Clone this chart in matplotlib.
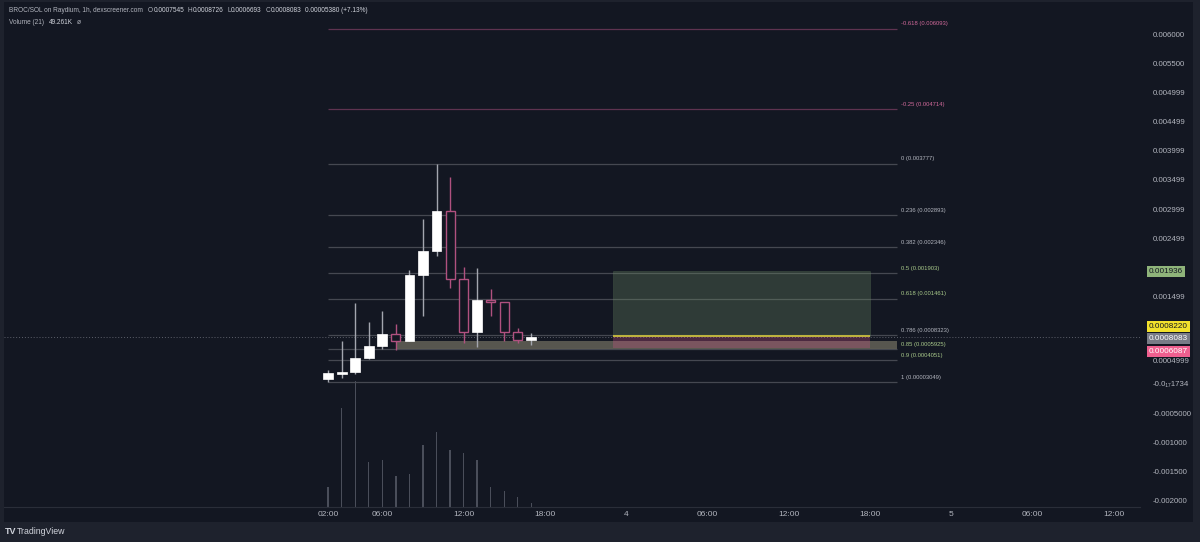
import matplotlib
matplotlib.use("Agg")
import matplotlib.pyplot as plt
from matplotlib.patches import Rectangle
from matplotlib.transforms import blended_transform_factory

# ---- data (hours from 00:00 of day 3, prices in SOL) ----
hours = [2, 3, 4, 5, 6, 7, 8, 9, 10, 11, 12, 13, 14, 15, 16, 17]
opens = [0.0000850, 0.000176, 0.000200, 0.000444, 0.000643, 0.000865, 0.000729, 0.001865,
         0.002282, 0.002974, 0.001804, 0.000887, 0.001433, 0.001411, 0.000899, 0.0007545]
highs = [0.000244, 0.000739, 0.001394, 0.001070, 0.001258, 0.001036, 0.001962, 0.002828,
         0.003777, 0.003544, 0.002014, 0.001997, 0.001633, 0.001411, 0.000956, 0.0008726]
lows = [0.00003049, 0.000108, 0.000171, 0.000427, 0.000597, 0.000585, 0.000729, 0.001166,
        0.002201, 0.001650, 0.000705, 0.000637, 0.001166, 0.000734, 0.000705, 0.0006693]
closes = [0.000183, 0.000210, 0.000449, 0.000648, 0.000858, 0.000734, 0.001872, 0.002287,
          0.002974, 0.001797, 0.000887, 0.001433, 0.001404, 0.000887, 0.000756, 0.0008083]
volumes = [20, 99, 126, 45, 47, 31, 33, 62, 75, 57, 54, 47, 20, 16, 10, 4]  # relative (K)

fib_levels = ["-0.618", "-0.25", "0", "0.236", "0.382", "0.5", "0.618", "0.786", "0.85", "0.9", "1"]
fib_prices = [0.006093, 0.004714, 0.003777, 0.002893, 0.002346, 0.001903, 0.001461,
              0.0008323, 0.0005925, 0.0004051, 0.00003049]
fib_labels = ["0.006093", "0.004714", "0.003777", "0.002893", "0.002346", "0.001903", "0.001461",
              "0.0008323", "0.0005925", "0.0004051", "0.00003049"]
fib_start, fib_end = 2, 44

zone_start, zone_low, zone_high = 7, 0.0005925, 0.000734
pos_start, pos_end = 23, 42
target, entry, stop = 0.001936, 0.000822, 0.0006087
last_price = 0.0008083

price_ticks = [0.006, 0.0055, 0.004999, 0.004499, 0.003999, 0.003499, 0.002999, 0.002499,
               0.001499, 0.0004, -0.0000001734, -0.0005, -0.001, -0.0015, -0.002]
price_tick_labels = ["0.006000", "0.005500", "0.004999", "0.004499", "0.003999", "0.003499",
                     "0.002999", "0.002499", "0.001499", "0.0004999",
                     "-0.0\u2081\u20871734", "-0.0005000", "-0.001000", "-0.001500", "-0.002000"]
time_ticks = [2, 6, 12, 18, 24, 30, 36, 42, 48, 54, 60]
time_labels = ["02:00", "06:00", "12:00", "18:00", "4", "06:00", "12:00", "18:00", "5", "06:00", "12:00"]

# ---- style ----
BG = "#131722"
BG2 = "#1e222d"
TXT = "#b2b5be"
VAL = "#d1d4dc"
PINK = "#b0517f"
plt.rcParams["font.family"] = ["Liberation Sans", "DejaVu Sans"]

W, H = 1200, 542
fig = plt.figure(figsize=(12, 5.42), dpi=100, facecolor=BG2)


def fx(px):
    return px / W


def fy(py):
    return 1 - py / H


fig.patches.append(Rectangle((fx(4), fy(522)), fx(1193) - fx(4), fy(2) - fy(522),
                             transform=fig.transFigure, facecolor=BG, edgecolor="none", zorder=-10))

rect = [fx(4), fy(507), fx(1140) - fx(4), fy(2) - fy(507)]
xlim = (-21.92, 61.92)

# volume pane (behind)
axv = fig.add_axes(rect, facecolor="none")
axv.bar(hours, volumes, width=0.1, color="#4a4e5a", zorder=1)
axv.set_xlim(*xlim)
axv.set_ylim(0, max(volumes) * 505 / 126)
axv.axis("off")

# price pane
ax = fig.add_axes(rect, facecolor="none")
ax.set_xlim(*xlim)
ax.set_ylim(-0.00211, 0.006552)
for s in ["top", "left", "right"]:
    ax.spines[s].set_visible(False)
ax.spines["bottom"].set_color("#2a2e39")

# fib lines
for lvl, p, lab in zip(fib_levels, fib_prices, fib_labels):
    if lvl.startswith("-"):
        lc, tc = "#5e3350", "#d0699a"
    elif lvl in ("0.5", "0.618", "0.85", "0.9"):
        lc, tc = "#454851", "#a8c98a"
    else:
        lc, tc = "#454851", "#b2b5be"
    ax.hlines(p, fib_start, fib_end, color=lc, lw=0.9, zorder=2)
    ax.text(fib_end + 0.3, p + 0.00004, f"{lvl} ({lab})", color=tc, fontsize=4.2,
            va="bottom", ha="left", zorder=6)

# zone band
ax.add_patch(Rectangle((zone_start, zone_low), fib_end - zone_start, zone_high - zone_low,
                       facecolor="#9b957c", alpha=0.5, edgecolor="none", zorder=2.5))

# long position box
ax.add_patch(Rectangle((pos_start, entry), pos_end - pos_start, target - entry,
                       facecolor="#708f68", alpha=0.3, edgecolor="#708f68", lw=0.5, zorder=2.2))
ax.add_patch(Rectangle((pos_start, stop), pos_end - pos_start, entry - stop,
                       facecolor="#ce5386", alpha=0.3, edgecolor="none", zorder=2.6))
ax.hlines(entry, pos_start, pos_end, color="#c9bd3c", lw=1.3, zorder=2.7)

# current price line
ax.axhline(last_price, color="#5d606b", lw=0.7, ls=(0, (1, 2)), zorder=2)

# candles
for h, o, hi, lo, c in zip(hours, opens, highs, lows, closes):
    up = c >= o
    wc = "#a3a6af" if up else PINK
    ax.vlines(h, lo, hi, color=wc, lw=1.0, zorder=3)
    bot = min(o, c)
    ht = max(abs(c - o), 0.00002)
    if up:
        ax.bar(h, ht, bottom=bot, width=0.72, color="white", edgecolor="white", lw=0.5, zorder=4)
    else:
        ax.bar(h, ht, bottom=bot, width=0.66, color=BG, edgecolor=PINK, lw=1.0, zorder=4)

# axes ticks
ax.yaxis.tick_right()
ax.set_yticks(price_ticks)
ax.set_yticklabels(price_tick_labels)
ax.tick_params(axis="y", length=0, pad=9, labelsize=5.7, labelcolor=TXT)
ax.set_xticks(time_ticks)
ax.set_xticklabels(time_labels)
ax.tick_params(axis="x", length=0, pad=3, labelsize=6.0, labelcolor=TXT)

# price labels on axis
trans = blended_transform_factory(ax.transAxes, ax.transData)
box_specs = [(target, "0.001936", "#8fb47a", "#131722", 0),
             (entry, "0.0008220", "#f2e12c", "#131722", 7),
             (last_price, "0.0008083", "#787b86", "white", -1.5),
             (stop, "0.0006087", "#ef5f8f", "white", -2)]
for p, s, fc, tc, off in box_specs:
    ax.annotate(s, xy=(1.0, p), xycoords=trans, xytext=(6.2, off), textcoords="offset points",
                fontsize=5.9, color=tc, va="center", ha="left", annotation_clip=False, zorder=10,
                bbox=dict(boxstyle="square,pad=0.25", facecolor=fc, edgecolor="none"))

# header, pieces placed one after another
renderer = fig.canvas.get_renderer()


def text_row(py, x0, parts, size=4.7):
    x = x0
    for s, c, gap in parts:
        t = fig.text(fx(x), fy(py), s, color=c, fontsize=size, va="center", ha="left")
        x += t.get_window_extent(renderer).width + gap


text_row(11, 9, [("BROC/SOL on Raydium, 1h, dexscreener.com", TXT, 5),
                 ("O", TXT, 0.5), ("0.0007545", VAL, 3.5),
                 ("H", TXT, 0.5), ("0.0008726", VAL, 3.5),
                 ("L", TXT, 0.5), ("0.0006693", VAL, 3.5),
                 ("C", TXT, 0.5), ("0.0008083", VAL, 4),
                 ("0.00005380 (+7.13%)", VAL, 0)])
text_row(22, 9, [("Volume (21)", TXT, 5), ("49.261K", VAL, 4), ("\u00f8", TXT, 0)])

# footer logo
fig.text(fx(5), fy(532), "TV", color=VAL, fontsize=6.5, fontweight="bold", va="center", ha="left")
fig.text(fx(17), fy(532), "TradingView", color=VAL, fontsize=6.3, va="center", ha="left")

fig.savefig("out.png", dpi=100, facecolor=BG2)
